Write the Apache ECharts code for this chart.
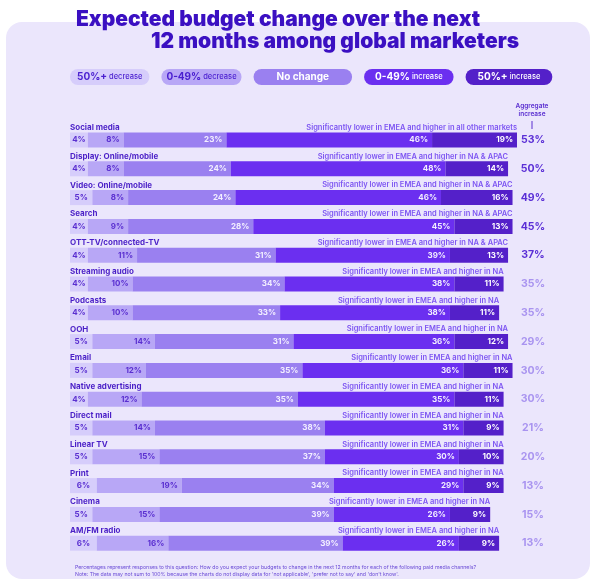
<!DOCTYPE html>
<html>
<head>
<meta charset="utf-8">
<script src="https://cdn.jsdelivr.net/npm/echarts@6/dist/echarts.min.js"></script>
<style>
  html, body { margin: 0; padding: 0; background: #fff; }
  #budget_chart { width: 600px; height: 586px; }
</style>
</head>
<body>
<div id="budget_chart"></div>
<script>
var channels = ["Social media", "Display: Online/mobile", "Video: Online/mobile", "Search",
    "OTT-TV/connected-TV", "Streaming audio", "Podcasts", "OOH", "Email", "Native advertising",
    "Direct mail", "Linear TV", "Print", "Cinema", "AM/FM radio"];
var big_decrease = [4, 4, 5, 4, 4, 4, 4, 5, 5, 4, 5, 5, 6, 5, 6];
var small_decrease = [8, 8, 8, 9, 11, 10, 10, 14, 12, 12, 14, 15, 19, 15, 16];
var no_change = [23, 24, 24, 28, 31, 34, 33, 31, 35, 35, 38, 37, 34, 39, 39];
var small_increase = [46, 48, 46, 45, 39, 38, 38, 36, 36, 35, 31, 30, 29, 26, 26];
var big_increase = [19, 14, 16, 13, 13, 11, 11, 12, 11, 11, 9, 10, 9, 9, 9];
var aggregate = [53, 50, 49, 45, 37, 35, 35, 29, 30, 30, 21, 20, 13, 15, 13];
var aggregate_strong = [true, true, true, true, true, false, false, false, false, false, false, false, false, false, false];
var notes = ["Significantly lower in EMEA and higher in all other markets",
    "Significantly lower in EMEA and higher in NA & APAC",
    "Significantly lower in EMEA and higher in NA & APAC",
    "Significantly lower in EMEA and higher in NA & APAC",
    "Significantly lower in EMEA and higher in NA & APAC",
    "Significantly lower in EMEA and higher in NA",
    "Significantly lower in EMEA and higher in NA",
    "Significantly lower in EMEA and higher in NA",
    "Significantly lower in EMEA and higher in NA",
    "Significantly lower in EMEA and higher in NA",
    "Significantly lower in EMEA and higher in NA",
    "Significantly lower in EMEA and higher in NA",
    "Significantly lower in EMEA and higher in NA",
    "Significantly lower in EMEA and higher in NA",
    "Significantly lower in EMEA and higher in NA"];
var segment_names = ["50%+ decrease", "0-49% decrease", "No change", "0-49% increase", "50%+ increase"];
var segment_colors = ["#d6cdfb", "#b8a7f6", "#9a80f0", "#6b2ff0", "#5420c9"];

var FONT = "Inter";
var DARK = "#3b10c2";

function zeros() {
    var z = [];
    for (var i = 0; i < channels.length; i++) z.push(0);
    return z;
}

function segment(idx, values, textColor, pos) {
    return {
        name: segment_names[idx],
        type: "bar",
        stack: "total",
        stackStrategy: "all",
        barWidth: 15,
        itemStyle: {color: segment_colors[idx]},
        label: {
            show: true,
            position: pos,
            distance: 4,
            formatter: "{c}%",
            color: textColor,
            fontFamily: FONT,
            fontSize: 8,
            fontWeight: "bold"
        },
        data: values
    };
}

function legendItem(idx, textColor, padX) {
    return {
        name: segment_names[idx],
        textStyle: {
            color: textColor,
            backgroundColor: segment_colors[idx],
            borderRadius: 8,
            padding: [3, padX, 3, padX],
            rich: {
                b: {color: textColor, fontFamily: FONT, fontSize: 10, fontWeight: "bold"},
                s: {color: textColor, fontFamily: FONT, fontSize: 7.5, fontWeight: 500}
            }
        }
    };
}

var option = {
    backgroundColor: "#ffffff",
    animation: false,
    graphic: [
        {type: "rect", z: 0, shape: {x: 6, y: 22, width: 584, height: 557, r: 16}, style: {fill: "#ebe6fc"}},
        {type: "text", z: 5, x: 532, y: 102, style: {text: "Aggregate\nincrease", align: "center",
            fill: "#5a2fd0", font: "600 6.5px Inter", lineHeight: 8}},
        {type: "line", z: 5, shape: {x1: 532, y1: 121, x2: 532, y2: 129}, style: {stroke: "#5a2fd0", lineWidth: 1}}
    ],
    title: [
        {text: "Expected budget change over the next", left: 71, top: 4,
            textStyle: {color: DARK, fontFamily: FONT, fontSize: 21, fontWeight: 900}},
        {text: "12 months among global marketers", left: 146, top: 26,
            textStyle: {color: DARK, fontFamily: FONT, fontSize: 21, fontWeight: 900}},
        {text: "Percentages represent responses to this question: How do you expect your budgets to change in the next 12 months for each of the following paid media channels?\nNote: The data may not sum to 100% because the charts do not display data for 'not applicable', 'prefer not to say' and 'don't know'.",
            left: 70, top: 559,
            textStyle: {color: "#6a4bd6", fontFamily: FONT, fontSize: 5.2, fontWeight: "normal", lineHeight: 7}}
    ],
    legend: {
        left: 60,
        top: 64,
        itemGap: 7,
        itemWidth: 0,
        itemHeight: 0,
        icon: "rect",
        selectedMode: false,
        formatter: function (name) {
            if (name === "No change") return "{b|No change}";
            var i = name.indexOf(" ");
            return "{b|" + name.slice(0, i) + "}{s| " + name.slice(i + 1) + "}";
        },
        data: [
            legendItem(0, "#4a1fd0", 7),
            legendItem(1, "#4a1fd0", 5),
            legendItem(2, "#ffffff", 23),
            legendItem(3, "#ffffff", 11),
            legendItem(4, "#ffffff", 12)
        ]
    },
    grid: {left: 70, right: 83, top: 125.6, bottom: 28.4, containLabel: false},
    xAxis: {type: "value", min: 0, max: 100, show: false},
    yAxis: [
        {type: "category", inverse: true, data: channels, show: false},
        {type: "category", inverse: true, data: channels, position: "right",
            axisLine: {show: false}, axisTick: {show: false},
            axisLabel: {
                margin: 16,
                align: "center",
                formatter: function (v, i) {
                    return (aggregate_strong[i] ? "{s|" : "{w|") + aggregate[i] + "%}";
                },
                rich: {
                    s: {color: "#5b2fd6", fontFamily: FONT, fontSize: 10.5, fontWeight: "bold"},
                    w: {color: "#a994f0", fontFamily: FONT, fontSize: 10.5, fontWeight: "bold"}
                }
            }
        }
    ],
    series: [
        {
            name: "names", type: "bar", stack: "total", stackStrategy: "all", barWidth: 15,
            itemStyle: {color: "transparent"},
            label: {
                show: true, position: [0, -1], align: "left", verticalAlign: "bottom",
                formatter: function (p) { return channels[p.dataIndex]; },
                color: "#4a1fc7", fontFamily: FONT, fontSize: 8, fontWeight: "bold"
            },
            data: zeros()
        },
        segment(0, big_decrease, "#5a2fd0", "inside"),
        segment(1, small_decrease, "#5a2fd0", "insideRight"),
        segment(2, no_change, "#f3efff", "insideRight"),
        segment(3, small_increase, "#f3efff", "insideRight"),
        segment(4, big_increase, "#ffffff", "insideRight"),
        {
            name: "notes", type: "bar", stack: "total", stackStrategy: "all", barWidth: 15,
            itemStyle: {color: "transparent"},
            label: {
                show: true, position: [0, -1], align: "right", verticalAlign: "bottom",
                formatter: function (p) { return notes[p.dataIndex]; },
                color: "#7d55f2", fontFamily: FONT, fontSize: 7.5, fontWeight: 600
            },
            data: zeros()
        }
    ]
};

var budget_chart = echarts.init(document.getElementById("budget_chart"));
budget_chart.setOption(option);
</script>
</body>
</html>
